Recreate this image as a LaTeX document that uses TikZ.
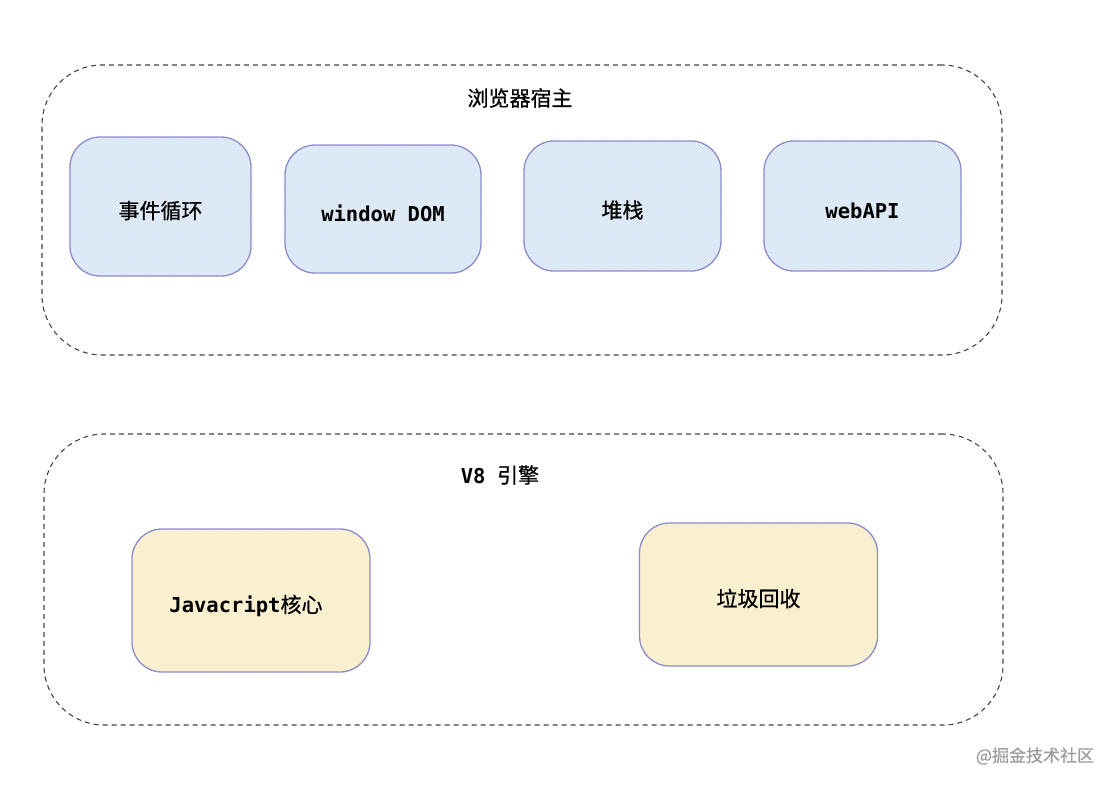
\documentclass[tikz,border=0pt]{standalone}
\usepackage{fontspec}
\setmonofont{DejaVu Sans Mono}
\newfontfamily\cjk[FakeBold=0.7]{Noto Sans CJK SC}
\usetikzlibrary{patterns,positioning}
\definecolor{blueline}{HTML}{8C8CCC}
\definecolor{bluehatch}{HTML}{A6C3E6}
\definecolor{bluebg}{HTML}{DCE9F7}
\definecolor{yellowhatch}{HTML}{EFD9A0}
\definecolor{yellowbg}{HTML}{FBEFCC}
\definecolor{groupline}{HTML}{444444}
\tikzstyle{group} = [draw=groupline,dash pattern=on 5pt off 4pt,line width=1.1pt,rounded corners=60pt,inner sep=0pt]
\tikzstyle{bluebox} = [draw=blueline,line width=1.3pt,rounded corners=30pt,fill=bluebg,
  inner sep=0pt,text height=26pt,text depth=2pt,font=\cjk\fontsize{21}{25}\selectfont]
\tikzstyle{yellowbox} = [bluebox,fill=yellowbg]
\tikzstyle{caption} = [font=\cjk\fontsize{21}{25}\selectfont]
\newcommand{\code}[1]{{\ttfamily\bfseries\fontsize{20.5}{25}\selectfont #1}}

\begin{document}
\begin{tikzpicture}[x=1pt,y=-1pt]
    \useasboundingbox (0,0) rectangle (1118,788);

    % browser host
    \node [group,minimum width=960pt,minimum height=290pt] (host) at (522,210) {};
    \node [caption] (hosttitle) at (520,98) {浏览器宿主};
    \foreach \name/\x/\y/\w/\h/\txt in {loop/160.5/206.5/181/139/事件循环,
        dom/383/209/196/128/\code{window DOM},
        stack/622.5/206/197/130/堆栈,
        webapi/862.5/206/197/130/\code{webAPI}}
    {
      \fill [pattern=north east lines,pattern color=bluehatch,rounded corners=30pt]
        (\x-\w/2,\y-\h/2) rectangle (\x+\w/2,\y+\h/2);
      \node [bluebox,fill opacity=0.75,text opacity=1,minimum width=\w pt,minimum height=\h pt] (\name) at (\x,\y) {\txt};
    }

    % v8 engine
    \node [group,minimum width=959pt,minimum height=291pt] (engine) at (523.5,579.5) {};
    \node [caption] (enginetitle) at (500,475) {\code{V8}\hspace{0.55em}引擎};
    \foreach \name/\x/\y/\txt in {core/251/600.5/\hspace{-10pt}\code{Javacript}核心, gc/758.5/594.5/垃圾回收}
    {
      \fill [pattern=north east lines,pattern color=yellowhatch,rounded corners=30pt]
        (\x-119,\y-71.5) rectangle (\x+119,\y+71.5);
      \node [yellowbox,fill opacity=0.75,text opacity=1,minimum width=238pt,minimum height=143pt] (\name) at (\x,\y) {\txt};
    }

    \node [font=\cjk\fontsize{17}{20}\selectfont,text=black!38] (mark) at (1035,756) {@掘金技术社区};
  \end{tikzpicture}
\end{document}
